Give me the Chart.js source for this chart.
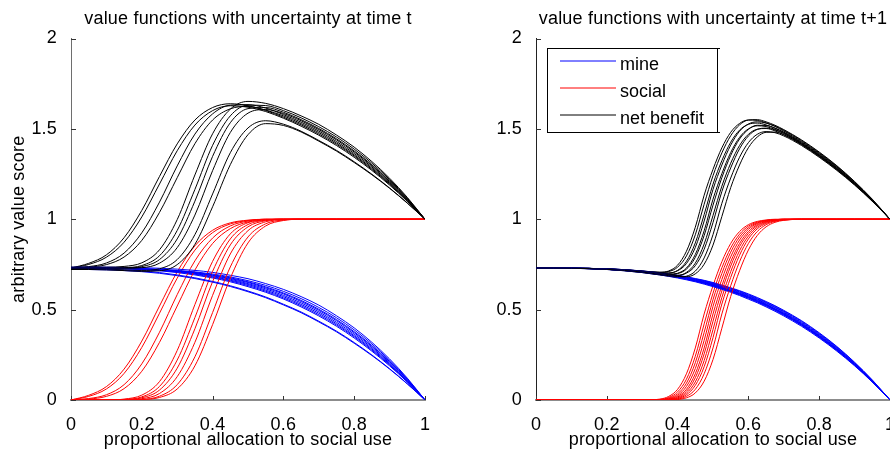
<!DOCTYPE html>
<html><head><meta charset="utf-8">
<script src="https://cdn.jsdelivr.net/npm/chart.js@4.4.1/dist/chart.umd.min.js"></script>
<style>
html,body{margin:0;padding:0;background:#fff;overflow:hidden;width:890px;height:451px;position:relative;}
#c1{position:absolute;left:0;top:0;}
#c2{position:absolute;left:465px;top:0;}
</style></head><body>
<canvas id="c1" width="445" height="451"></canvas>
<canvas id="c2" width="445" height="451"></canvas>
<script>
// ---------- data ----------
const xLeft = [0,0.05,0.1,0.15,0.2,0.25,0.3,0.35,0.4,0.45,0.5,0.55,0.6,0.65,0.7,0.75,0.8,0.85,0.9,0.95,1];
const xRight = [0,0.05,0.1,0.15,0.2,0.25,0.3,0.35,0.375,0.4,0.425,0.45,0.475,0.5,0.525,0.55,0.575,0.6,0.625,0.65,0.675,0.7,0.75,0.8,0.85,0.9,0.95,1];

const xTickValues = [0,0.2,0.4,0.6,0.8,1];
const xTickLabels = ['0','0.2','0.4','0.6','0.8','1'];
const yTickValues = [0,0.5,1,1.5,2];
const yTickLabels = ['0','0.5','1','1.5','2'];
const legendLabels = ['mine','social','net benefit'];
const titleLeft = 'value functions with uncertainty at time t';
const titleRight = 'value functions with uncertainty at time t+1';
const xAxisTitle = 'proportional allocation to social use';
const yAxisTitle = 'arbitrary value score';

// time t : one row per simulation run
const mineLeft = [
  [.730,.730,.729,.727,.723,.717,.708,.696,.679,.659,.633,.602,.565,.522,.472,.415,.350,.276,.194,.102,0],
  [.730,.730,.729,.726,.722,.715,.705,.692,.675,.654,.627,.596,.559,.515,.465,.408,.343,.270,.189,.099,0],
  [.730,.730,.729,.728,.725,.720,.712,.701,.687,.668,.644,.615,.579,.537,.488,.430,.364,.289,.203,.107,0],
  [.730,.730,.729,.728,.724,.719,.710,.699,.683,.663,.639,.608,.572,.529,.480,.422,.356,.282,.198,.104,0],
  [.735,.735,.735,.734,.732,.729,.724,.717,.706,.690,.671,.644,.612,.572,.525,.466,.399,.319,.227,.121,0],
  [.730,.730,.730,.729,.727,.723,.717,.709,.697,.681,.660,.634,.601,.561,.512,.455,.388,.310,.220,.117,0],
  [.730,.730,.730,.728,.726,.722,.715,.706,.693,.676,.654,.626,.592,.551,.502,.445,.378,.301,.213,.113,0],
  [.730,.730,.729,.728,.725,.721,.714,.704,.690,.672,.650,.621,.587,.545,.496,.439,.372,.296,.209,.111,0],
  [.726,.726,.724,.720,.714,.705,.692,.676,.656,.632,.603,.570,.530,.487,.436,.381,.318,.249,.173,.090,0],
  [.722,.722,.720,.716,.710,.701,.688,.672,.652,.628,.599,.566,.526,.483,.432,.377,.314,.246,.171,.089,0]
];
const socialLeft = [
  [0,.026,.074,.171,.326,.520,.709,.853,.939,.980,.995,1,1,1,1,1,1,1,1,1,1],
  [0,.020,.061,.147,.291,.480,.674,.829,.926,.974,.993,1,1,1,1,1,1,1,1,1,1],
  [0,.008,.029,.085,.200,.375,.583,.770,.896,.963,.990,1,1,1,1,1,1,1,1,1,1],
  [0,.005,.020,.063,.159,.319,.520,.719,.866,.948,.985,.996,1,1,1,1,1,1,1,1,1],
  [0,0,0,.005,.027,.102,.274,.528,.767,.919,.981,.997,1,1,1,1,1,1,1,1,1],
  [0,0,0,.003,.017,.075,.221,.456,.712,.891,.971,.995,1,1,1,1,1,1,1,1,1],
  [0,0,0,.002,.012,.055,.176,.394,.655,.858,.958,.992,1,1,1,1,1,1,1,1,1],
  [0,0,0,.001,.007,.036,.129,.319,.579,.808,.937,.986,.998,1,1,1,1,1,1,1,1],
  [0,0,0,0,.003,.021,.085,.239,.484,.736,.902,.975,.996,1,1,1,1,1,1,1,1],
  [0,0,0,0,.002,.014,.061,.189,.417,.674,.869,.963,.993,1,1,1,1,1,1,1,1]
];

// time t+1 : one row per simulation run
const mineRight = [
  [.730,.730,.729,.728,.725,.720,.712,.701,.694,.687,.678,.668,.657,.644,.630,.615,.598,.579,.559,.537,.514,.488,.430,.364,.289,.203,.107,0],
  [.730,.730,.729,.728,.726,.721,.714,.704,.697,.690,.682,.672,.662,.650,.636,.621,.605,.587,.567,.545,.522,.496,.439,.372,.296,.209,.111,0],
  [.730,.730,.729,.728,.724,.719,.710,.699,.692,.683,.674,.663,.652,.639,.624,.608,.591,.572,.552,.529,.505,.480,.422,.356,.282,.198,.104,0],
  [.730,.730,.729,.728,.726,.721,.713,.703,.696,.689,.680,.670,.660,.647,.633,.618,.602,.583,.563,.541,.518,.492,.435,.368,.293,.206,.109,0],
  [.730,.730,.729,.727,.723,.718,.709,.696,.689,.681,.671,.660,.648,.635,.620,.604,.587,.568,.547,.525,.501,.475,.417,.352,.278,.195,.102,0],
  [.730,.730,.729,.728,.725,.720,.711,.700,.693,.685,.676,.666,.655,.642,.627,.612,.595,.576,.556,.533,.510,.484,.426,.360,.286,.201,.106,0],
  [.730,.730,.729,.727,.723,.716,.707,.694,.687,.678,.668,.657,.645,.631,.616,.600,.582,.563,.542,.520,.496,.470,.413,.347,.274,.192,.101,0],
  [.730,.730,.729,.728,.724,.719,.710,.698,.691,.682,.673,.662,.650,.637,.622,.606,.589,.570,.550,.527,.503,.478,.420,.354,.280,.197,.103,0],
  [.730,.730,.729,.726,.722,.715,.705,.692,.684,.675,.665,.654,.641,.627,.612,.596,.578,.558,.538,.515,.491,.465,.408,.343,.270,.189,.099,0],
  [.730,.730,.729,.727,.723,.717,.708,.695,.688,.680,.670,.659,.647,.633,.618,.602,.585,.566,.545,.523,.499,.473,.415,.350,.276,.194,.102,0]
];
const socialRight = [
  [0,0,0,0,0,0,0,.005,.020,.059,.145,.288,.476,.632,.765,.866,.932,.970,.988,.996,1,1,1,1,1,1,1,1],
  [0,0,0,0,0,0,0,.003,.014,.045,.115,.242,.421,.591,.731,.841,.917,.962,.984,.994,.998,1,1,1,1,1,1,1],
  [0,0,0,0,0,0,0,.002,.010,.034,.093,.206,.374,.555,.700,.818,.902,.953,.980,.993,.998,1,1,1,1,1,1,1],
  [0,0,0,0,0,0,0,.001,.007,.026,.075,.174,.330,.518,.667,.792,.885,.944,.976,.991,.997,1,1,1,1,1,1,1],
  [0,0,0,0,0,0,0,0,.005,.020,.059,.145,.288,.476,.632,.765,.866,.932,.970,.988,.996,1,1,1,1,1,1,1],
  [0,0,0,0,0,0,0,0,.004,.015,.048,.123,.255,.436,.603,.741,.849,.921,.964,.986,.995,.998,1,1,1,1,1,1],
  [0,0,0,0,0,0,0,0,.003,.011,.038,.100,.218,.390,.567,.710,.826,.907,.956,.982,.993,.998,1,1,1,1,1,1],
  [0,0,0,0,0,0,0,0,.002,.008,.029,.081,.184,.345,.531,.678,.801,.891,.947,.977,.991,.997,1,1,1,1,1,1],
  [0,0,0,0,0,0,0,0,.001,.005,.020,.059,.145,.288,.476,.632,.765,.866,.932,.970,.988,.996,1,1,1,1,1,1],
  [0,0,0,0,0,0,0,0,0,.003,.012,.039,.104,.224,.397,.573,.715,.830,.910,.958,.983,.994,1,1,1,1,1,1]
];

// ---------- styling ----------
const COLORS = {mine:'#0000ff', social:'#ff0000', net:'#000000'};
const FONT_SIZE = 18;
Chart.defaults.font.family = "'Liberation Sans', Arial, Helvetica, sans-serif";
Chart.defaults.color = '#000';

function buildDatasets(xs, mineRuns, socialRuns){
  const ds = []; let k = 0;
  mineRuns.forEach((m, i) => {
    const s = socialRuns[i];
    const net = m.map((v, j) => v + s[j]);   // net benefit = mine + social
    [[m, COLORS.mine], [s, COLORS.social], [net, COLORS.net]].forEach(([ys, c]) => {
      ds.push({
        data: xs.map((x, j) => ({x: x, y: ys[j]})),
        borderColor: c, borderWidth: 1, pointRadius: 0, pointHoverRadius: 0,
        fill: false, cubicInterpolationMode: 'monotone', order: -(k++)
      });
    });
  });
  return ds;
}

const spacing = {id:'spacing', beforeDraw(chart){ chart.ctx.letterSpacing = '0.2px'; }};

const inwardTicks = {id:'inwardTicks', beforeDatasetsDraw(chart){
  const {ctx, chartArea:a, scales:{x, y}} = chart;
  ctx.save(); ctx.strokeStyle = '#333'; ctx.lineWidth = 1; ctx.beginPath();
  yTickValues.forEach(v => { const py = Math.round(y.getPixelForValue(v)) + 0.5; ctx.moveTo(a.left, py); ctx.lineTo(a.left + 5, py); });
  xTickValues.forEach(v => { const px = Math.round(x.getPixelForValue(v)) + 0.5; ctx.moveTo(px, a.bottom); ctx.lineTo(px, a.bottom - 4); });
  ctx.stroke(); ctx.restore();
}};

const boxLegend = {id:'boxLegend', afterDraw(chart){
  const ctx = chart.ctx;
  ctx.save();
  ctx.fillStyle = '#fff'; ctx.fillRect(82.5, 48.5, 170, 84);
  ctx.strokeStyle = '#000'; ctx.lineWidth = 1; ctx.strokeRect(82.5, 48.5, 170, 84);
  ctx.beginPath(); ctx.moveTo(252.5, 48.5); ctx.lineTo(255, 48.5); ctx.moveTo(252.5, 132.5); ctx.lineTo(255, 132.5); ctx.stroke();
  const cols = [COLORS.mine, COLORS.social, COLORS.net];
  const ys = [61, 88, 115];
  ctx.font = FONT_SIZE + "px 'Liberation Sans', Arial, sans-serif";
  ctx.letterSpacing = '0px';
  ctx.textBaseline = 'alphabetic'; ctx.textAlign = 'left';
  legendLabels.forEach((lab, i) => {
    ctx.strokeStyle = cols[i]; ctx.beginPath(); ctx.moveTo(95, ys[i]); ctx.lineTo(151, ys[i]); ctx.stroke();
    ctx.fillStyle = '#000'; ctx.fillText(lab, 155, ys[i] + 9);
  });
  ctx.restore();
}};

function makeOptions(titleText, showYTitle, yAxisColor){
  return {
    responsive: false, animation: false, devicePixelRatio: 1,
    layout: {padding: {left: 0, right: 20, top: 0, bottom: 0}},
    plugins: {
      legend: {display: false}, tooltip: {enabled: false},
      title: {display: true, text: titleText, color: '#000', font: {size: FONT_SIZE, weight: 'normal'},
              padding: {top: 8, bottom: 8.9}, fullSize: false}
    },
    scales: {
      x: {type: 'linear', min: 0, max: 1,
        grid: {display: false}, border: {display: true, color: '#8c8c8c', width: 2},
        ticks: {color: '#000', font: {size: FONT_SIZE}, padding: 6, maxRotation: 0, autoSkip: false,
                callback: (v, i) => xTickLabels[i]},
        afterBuildTicks: s => { s.ticks = xTickValues.map(v => ({value: v})); },
        afterFit: s => { s.height = 51; s.paddingLeft = 0; s.paddingRight = 0; },
        title: {display: true, text: xAxisTitle, color: '#000', font: {size: FONT_SIZE}, padding: {top: 0, bottom: 0}}
      },
      y: {type: 'linear', min: 0, max: 2,
        grid: {display: false}, border: {display: true, color: yAxisColor, width: 1},
        ticks: {color: '#000', font: {size: FONT_SIZE}, padding: 6, autoSkip: false,
                callback: (v, i) => yTickLabels[i]},
        afterBuildTicks: s => { s.ticks = yTickValues.map(v => ({value: v})); },
        afterFit: s => { s.width = 71; s.paddingTop = 0; s.paddingBottom = 0; },
        title: {display: showYTitle, text: yAxisTitle, color: '#000', font: {size: FONT_SIZE}, padding: {top: 8.6, bottom: 0}}
      }
    }
  };
}

new Chart(document.getElementById('c1'), {
  type: 'line',
  data: {datasets: buildDatasets(xLeft, mineLeft, socialLeft)},
  options: makeOptions(titleLeft, true, '#6e6e6e'),
  plugins: [spacing, inwardTicks]
});
new Chart(document.getElementById('c2'), {
  type: 'line',
  data: {datasets: buildDatasets(xRight, mineRight, socialRight)},
  options: makeOptions(titleRight, false, '#222'),
  plugins: [spacing, inwardTicks, boxLegend]
});
</script>
</body></html>
